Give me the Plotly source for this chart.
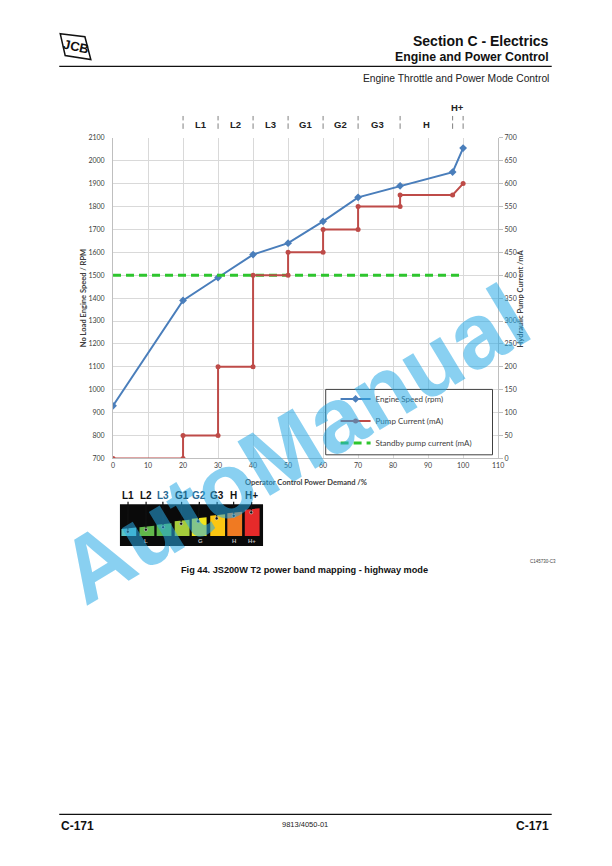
import plotly.graph_objects as go

# ---------------- data ----------------
demand_speed = [0, 20, 30, 40, 50, 60, 70, 82, 97, 100]
engine_speed = [930, 1390, 1490, 1590, 1640, 1735, 1840, 1890, 1950, 2055]

demand_pump = [0, 20, 20, 30, 30, 40, 40, 50, 50, 60, 60, 70, 70, 82, 82, 97, 100]
pump_current = [0, 0, 50, 50, 200, 200, 400, 400, 450, 450, 500, 500, 550, 550, 575, 575, 600]

standby_x = [0, 100]
standby_current = [400, 400]

band_labels = ["L1", "L2", "L3", "G1", "G2", "G3", "H", "H+"]
band_centers = [25, 35, 45, 55, 65, 75.5, 89.5, 98.5]
band_edges = [20, 30, 40, 50, 60, 70, 82, 97, 100]

x_ticks = list(range(0, 111, 10))
rpm_ticks = list(range(700, 2101, 100))
ma_ticks = list(range(0, 701, 50))

img_labels = ["L1", "L2", "L3", "G1", "G2", "G3", "H", "H+"]
img_colors = ["#5cc4c4", "#62b84a", "#5bb548", "#a6cc3a", "#f2e61c", "#fbc612", "#f07a22", "#e62a2a"]
img_label_colors = ["#111111", "#111111", "#2a6b96", "#111111", "#2a6b96", "#111111", "#111111", "#111111"]

W, H = 612, 866


def P(x):
    return x / W


def Q(y):
    return 1 - y / H


fig = go.Figure()

fig.add_trace(go.Scatter(
    x=standby_x, y=standby_current, yaxis="y2", mode="lines",
    name="Standby pump current (mA)", legendrank=3, legendgroup="c",
    line=dict(color="#2ec52e", width=3, dash="8px,5px"),
))
fig.add_trace(go.Scatter(
    x=demand_pump, y=pump_current, yaxis="y2", mode="lines+markers",
    name="Pump Current (mA)", legendrank=2, legendgroup="b",
    line=dict(color="#be4b48", width=2),
    marker=dict(symbol="circle", size=5, color="#be4b48"),
))
fig.add_trace(go.Scatter(
    x=demand_speed, y=engine_speed, mode="lines+markers",
    name="Engine Speed (rpm)", legendrank=1, legendgroup="a",
    line=dict(color="#4a7ebb", width=2),
    marker=dict(symbol="diamond", size=6, color="#4a7ebb"),
))

tickfont = dict(family="Lato", size=7, color="#404040")

fig.update_layout(
    width=W, height=H,
    margin=dict(l=0, r=0, t=0, b=0),
    paper_bgcolor="white", plot_bgcolor="white",
    font=dict(family="Lato", color="#404040"),
    xaxis=dict(
        domain=[P(112.5), P(502.7)], range=[0, 110],
        tickvals=x_ticks, showgrid=True, gridcolor="#d9d9d9", gridwidth=1,
        showline=True, linecolor="#bfbfbf", linewidth=1,
        ticks="", tickfont=tickfont, zeroline=False, fixedrange=True,
    ),
    yaxis=dict(
        domain=[Q(457.7), Q(134)], range=[700, 2100],
        tickvals=rpm_ticks, showgrid=True, gridcolor="#d9d9d9", gridwidth=1,
        showline=True, linecolor="#bfbfbf", linewidth=1,
        ticks="", tickfont=tickfont, zeroline=False, ticklabelstandoff=6,
    ),
    yaxis2=dict(
        overlaying="y", side="right", range=[0, 700],
        tickvals=ma_ticks, showgrid=False,
        showline=True, linecolor="#bfbfbf", linewidth=1,
        ticks="outside", ticklen=4, tickcolor="#bfbfbf",
        tickfont=tickfont, zeroline=False,
    ),
    legend=dict(
        x=P(338), y=Q(383), xanchor="left", yanchor="top",
        borderwidth=0, bgcolor="rgba(0,0,0,0)",
        font=dict(family="Lato", size=8, color="#404040"),
        traceorder="grouped", tracegroupgap=3, itemwidth=30,
    ),
    showlegend=True,
)

ann = []
shapes = []

# legend frame
shapes.append(dict(type="rect", xref="paper", yref="paper", x0=P(328), x1=P(497), y0=Q(388), y1=Q(454),
                   fillcolor="white", line=dict(color="#404040", width=1), layer="above"))


def A(text, x, y, size, family="Liberation Sans", color="#111111", xanchor="center", angle=0, xref="paper"):
    ann.append(dict(text=text, x=x if xref != "paper" else P(x), y=Q(y), xref=xref, yref="paper",
                    xanchor=xanchor, yanchor="middle", showarrow=False, textangle=angle,
                    font=dict(family=family, size=size, color=color)))


# axis titles
A("<b>Operator Control Power Demand /%</b>", 307.6, 481.5, 7.5, family="Lato", color="#404040")
A("<b>No Load Engine Speed / RPM</b>", 82, 296, 7.5, family="Lato", color="#404040", angle=-90)
A("<b>Hydraulic Pump Current /mA</b>", 525, 296, 7.5, family="Lato", color="#404040", angle=-90)

# band labels on top
for lab, cx in zip(band_labels, band_centers):
    yy = 103 if lab == "H+" else 121
    A("<b>%s</b>" % lab, cx, yy, 9.5, color="#222222", xref="x")
for e in band_edges:
    for (a, b) in [(112, 116.5), (119.5, 125)]:
        shapes.append(dict(type="line", xref="x", yref="paper", x0=e, x1=e, y0=Q(a), y1=Q(b),
                           line=dict(color="#808080", width=1)))

# header
A("<b>Section C - Electrics</b>", 556, 36, 14, xanchor="right")
A("<b>Engine and Power Control</b>", 556, 52, 12.3, xanchor="right")
shapes.append(dict(type="line", xref="paper", yref="paper", x0=P(58), x1=P(557), y0=Q(62), y1=Q(62),
                   line=dict(color="#111111", width=1.2)))
A("Engine Throttle and Power Mode Control", 556, 74, 10.3, color="#222222", xanchor="right")


def path(pts):
    return "M " + " L ".join("%.5f,%.5f" % (P(x), Q(y)) for x, y in pts) + " Z"


# JCB logo
shapes.append(dict(type="path", xref="paper", yref="paper",
                   path=path([(59, 29), (84, 32), (90, 55), (64, 51)]),
                   fillcolor="white", line=dict(color="#111111", width=1.5)))
A("<b>JCB</b>", 74.5, 42, 13, angle=12)

# footer
shapes.append(dict(type="line", xref="paper", yref="paper", x0=P(58), x1=P(557), y0=Q(817), y1=Q(817),
                   line=dict(color="#111111", width=1.2)))
A("<b>C-171</b>", 58, 828.5, 12, xanchor="left")
A("<b>C-171</b>", 556, 828.5, 12, xanchor="right")
A("9813/4050-01", 307, 827.5, 7.5, color="#222222")

# caption
A("<b>Fig 44. JS200W T2 power band mapping - highway mode</b>", 306, 570, 9.2)
A("C145730-C3", 548, 561.5, 4.5, color="#444444")

# power band illustration
shapes.append(dict(type="rect", xref="paper", yref="paper", x0=P(119.5), x1=P(264.5), y0=Q(504), y1=Q(546),
                   fillcolor="#0a0a0a", line=dict(width=0)))
bx0 = [121, 139.3, 156.7, 175, 192.3, 211, 228.3, 246]
btop = [529, 527, 524.5, 521, 518.5, 515.5, 513, 509.5]
lab_x = [127.7, 146, 163, 182, 200, 218, 234.7, 253]
for i in range(8):
    x0 = bx0[i]
    x1 = x0 + 15
    t = btop[i]
    shapes.append(dict(type="path", xref="paper", yref="paper",
                       path=path([(x0, t), (x1, t - 1.5), (x1, 536), (x0, 536)]),
                       fillcolor=img_colors[i], line=dict(width=0)))
    cx = x0 + 6.5
    shapes.append(dict(type="line", xref="paper", yref="paper", x0=P(lab_x[i]), x1=P(cx),
                       y0=Q(501.5), y1=Q(t + 2.5), line=dict(color="#111111", width=1.2)))
    shapes.append(dict(type="circle", xref="paper", yref="paper", x0=P(cx - 1.6), x1=P(cx + 1.6),
                       y0=Q(t + 1), y1=Q(t + 4.2), fillcolor="#111111", line=dict(color="#dddddd", width=0.6)))
    A("<b>%s</b>" % img_labels[i], lab_x[i], 495.5, 10, color=img_label_colors[i])
for txt, xx in [("L", 145.5), ("G", 201), ("H", 235.5), ("H+", 253)]:
    A("<b>%s</b>" % txt, xx, 541.5, 6, color="#bdbdbd")

# watermark
A("<b>AutoManual</b>", 296, 443, 92, color="rgba(40,170,230,0.55)", angle=-31)

fig.update_layout(annotations=ann, shapes=shapes)

fig.write_html(
    "out.html",
    config={"displayModeBar": False},
    post_script=(
        "document.documentElement.style.margin='0';document.body.style.margin='0';"
        "document.documentElement.style.overflow='hidden';document.body.style.overflow='hidden';"
    ),
)
